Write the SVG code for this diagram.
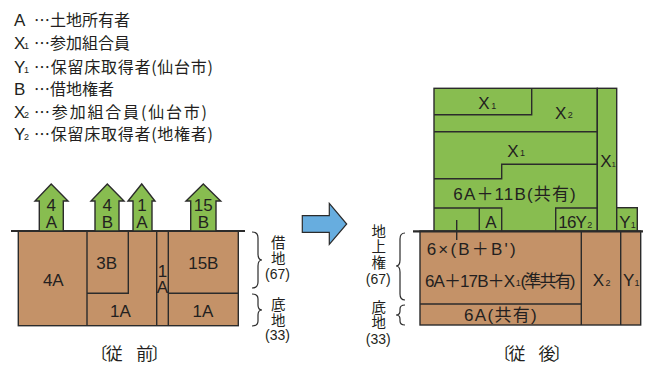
<svg xmlns="http://www.w3.org/2000/svg" width="646" height="365" viewBox="0 0 646 365">
<style>
.t{font-family:"Liberation Sans","Noto Sans CJK JP",sans-serif;fill:#231f20;font-size:17px}
.j{font-family:"Noto Sans CJK JP",sans-serif;fill:#231f20;font-size:16px}
.v{font-family:"Noto Sans CJK JP",sans-serif;fill:#231f20;font-size:14.5px}
.m{text-anchor:middle}
.s{font-family:"Liberation Sans",sans-serif;fill:#231f20;font-size:9px}
.ln{stroke:#2b2b2b;stroke-width:1.4;fill:none}
.gl{stroke:#2b2b2b;stroke-width:2.2;fill:none}
.br{fill:#c49268;stroke:#2b2b2b;stroke-width:1.4}
.gr{fill:#88bd50;stroke:#2b2b2b;stroke-width:1.4}
.bl{fill:#67addf;stroke:#2b2b2b;stroke-width:1.2}
.brace{stroke:#2b2b2b;stroke-width:1.2;fill:none}
</style>

<g id="legend">
  <text class="t" x="14" y="26">A</text><text class="j" x="34" y="26">…土地所有者</text>
  <text class="t" x="14" y="49">X</text><text class="s" x="24" y="49">1</text><text class="j" x="34" y="49">…参加組合員</text>
  <text class="t" x="14" y="72.5">Y</text><text class="s" x="24" y="72.5">1</text><text class="j" x="34" y="72.5" textLength="179">…保留床取得者(仙台市)</text>
  <text class="t" x="14" y="95">B</text><text class="j" x="34" y="95">…借地権者</text>
  <text class="t" x="14" y="117.5">X</text><text class="s" x="24" y="117.5">2</text><text class="j" x="34" y="117.5" textLength="173">…参加組合員(仙台市)</text>
  <text class="t" x="14" y="140">Y</text><text class="s" x="24" y="140">2</text><text class="j" x="34" y="140" textLength="179">…保留床取得者(地権者)</text>
</g>

<g id="before">
  <g id="before-land">
    <rect class="br" x="18.3" y="231" width="220" height="94.7"/>
    <path class="ln" d="M87 231V325.7M87 293.3H128.3V231M156.7 231V325.7M168.3 231V325.7M168.3 293.3H238.3"/>
    <line class="gl" x1="11" y1="231" x2="245" y2="231"/>
  </g>
  <g id="before-4A"><text class="t m" x="53.3" y="286">4A</text></g>
  <g id="before-3B"><text class="t m" x="106.7" y="269.3">3B</text></g>
  <g id="before-1A-mid"><text class="t m" x="120.5" y="316.7">1A</text></g>
  <g id="before-1A-strip"><text class="t m" x="162.5" y="276.7">1</text><text class="t m" x="162.5" y="292.7">A</text></g>
  <g id="before-15B"><text class="t m" x="203.3" y="269.3">15B</text></g>
  <g id="before-1A-right"><text class="t m" x="203" y="316.7">1A</text></g>

  <g id="arrow-4A">
    <polygon class="gr" points="39.3,231 39.3,201 35,201 51.2,184 68,201 63.3,201 63.3,231"/>
    <text class="t m" x="51.3" y="211">4</text><text class="t m" x="51.3" y="228.3">A</text>
  </g>
  <g id="arrow-4B">
    <polygon class="gr" points="95,231 95,201 91,201 107.3,184 124,201 119,201 119,231"/>
    <text class="t m" x="107.3" y="211">4</text><text class="t m" x="107.3" y="228.3">B</text>
  </g>
  <g id="arrow-1A">
    <polygon class="gr" points="133,231 133,201 128,201 141.7,184 155,201 152,201 152,231"/>
    <text class="t m" x="142" y="211">1</text><text class="t m" x="142" y="228.3">A</text>
  </g>
  <g id="arrow-15B">
    <polygon class="gr" points="190.7,231 190.7,201 186,201 203.3,184 220.7,201 216,201 216,231"/>
    <text class="t m" x="203.3" y="211">15</text><text class="t m" x="203.3" y="228.3">B</text>
  </g>

  <g id="before-braces">
    <path class="brace" d="M252 232Q258 232 258 238V254Q258 260 262 260Q258 260 258 266V282Q258 288 252 288"/>
    <path class="brace" d="M252 294Q258 294 258 299V305Q258 310 262 310Q258 310 258 315V321Q258 326 252 326"/>
    <text class="v m" x="278.3" y="247.5">借</text>
    <text class="v m" x="278.3" y="263.5">地</text>
    <text class="t m" x="277.5" y="279" style="font-size:14px">(67)</text>
    <text class="v m" x="278.3" y="309.5">底</text>
    <text class="v m" x="278.3" y="325.5">地</text>
    <text class="t m" x="277.5" y="340" style="font-size:14px">(33)</text>
  </g>
  <g id="before-caption"><text class="j" x="90.5" y="360" textLength="78" style="font-size:17px">〔従　前〕</text></g>
</g>

<g id="connectors">
  <polygon class="bl" points="302.3,215.7 329.3,215.7 329.3,203.3 346.7,224 329.3,244.3 329.3,232.3 302.3,232.3"/>
</g>

<g id="after">
  <g id="after-land">
    <rect class="br" x="420" y="231" width="220.7" height="94"/>
    <path class="ln" d="M581.3 231V325M620.7 231V325M420 304H581.3"/>
  </g>
  <g id="after-building">
    <rect class="gr" x="434" y="88.3" width="163.3" height="142.7"/>
    <rect class="gr" x="597.3" y="88.3" width="19.4" height="142.7"/>
    <rect class="gr" x="616.7" y="207.7" width="20.6" height="23.3"/>
    <path class="ln" d="M434 114.7H531.7V88.3M434 131.7H597.3M434 178.7H501.7V164.3H597.3M434 208H501.7V231M479.3 208V231M555.7 231V208H597.3M456.7 220V240"/>
  </g>
  <line class="gl" x1="413" y1="231.3" x2="643" y2="231.3"/>

  <g id="after-X1-top"><text class="t" x="478.3" y="109.3">X</text><text class="s" x="491.3" y="108.7">1</text></g>
  <g id="after-X2-top"><text class="t" x="555" y="119">X</text><text class="s" x="567.7" y="118.3">2</text></g>
  <g id="after-X1-mid"><text class="t" x="507.3" y="156.7">X</text><text class="s" x="520" y="156">1</text></g>
  <g id="after-X1-col"><text class="t" x="600.3" y="167.3">X</text><text class="s" x="611.5" y="166.7" style="font-size:8px">1</text></g>
  <g id="after-common"><text class="t" x="453.3" y="200" textLength="122.4">6A＋11B(共有)</text></g>
  <g id="after-A"><text class="t m" x="491" y="228.3">A</text></g>
  <g id="after-16Y2"><text class="t" x="558.3" y="228.3" textLength="28.5">16Y</text><text class="s" x="587.3" y="227.8">2</text></g>
  <g id="after-Y1-top"><text class="t" x="619.3" y="228.3">Y</text><text class="s" x="630.8" y="227.8">1</text></g>

  <g id="after-lease"><text class="t" x="426.7" y="255" textLength="89">6×(B＋B')</text></g>
  <g id="after-quasi"><text class="t" x="425" y="286.5" textLength="90">6A＋17B＋X</text><text class="s" x="515.8" y="286">1</text><text class="t" x="520.5" y="286.5" textLength="55">(準共有)</text></g>
  <g id="after-6A"><text class="t" x="464" y="321" textLength="72.7">6A(共有)</text></g>
  <g id="after-X2"><text class="t" x="592.7" y="286.3">X</text><text class="s" x="605.5" y="285.8">2</text></g>
  <g id="after-Y1"><text class="t" x="623" y="286.3">Y</text><text class="s" x="634.5" y="285.8">1</text></g>

  <g id="after-braces">
    <path class="brace" d="M405 233Q400 233 400 239V260Q400 266 396 266Q400 266 400 272V294Q400 300 405 300"/>
    <path class="brace" d="M405 305Q400 305 400 309V311Q400 315 396 315Q400 315 400 319V321Q400 325 405 325"/>
    <text class="v m" x="378.7" y="236.5">地</text>
    <text class="v m" x="378.7" y="251.5">上</text>
    <text class="v m" x="378.7" y="268">権</text>
    <text class="t m" x="378.3" y="283.8" style="font-size:14px">(67)</text>
    <text class="v m" x="378.7" y="313">底</text>
    <text class="v m" x="378.7" y="328">地</text>
    <text class="t m" x="378.3" y="344.3" style="font-size:14px">(33)</text>
  </g>
  <g id="after-caption"><text class="j" x="493.5" y="360" textLength="77" style="font-size:17px">〔従　後〕</text></g>
</g>
</svg>
